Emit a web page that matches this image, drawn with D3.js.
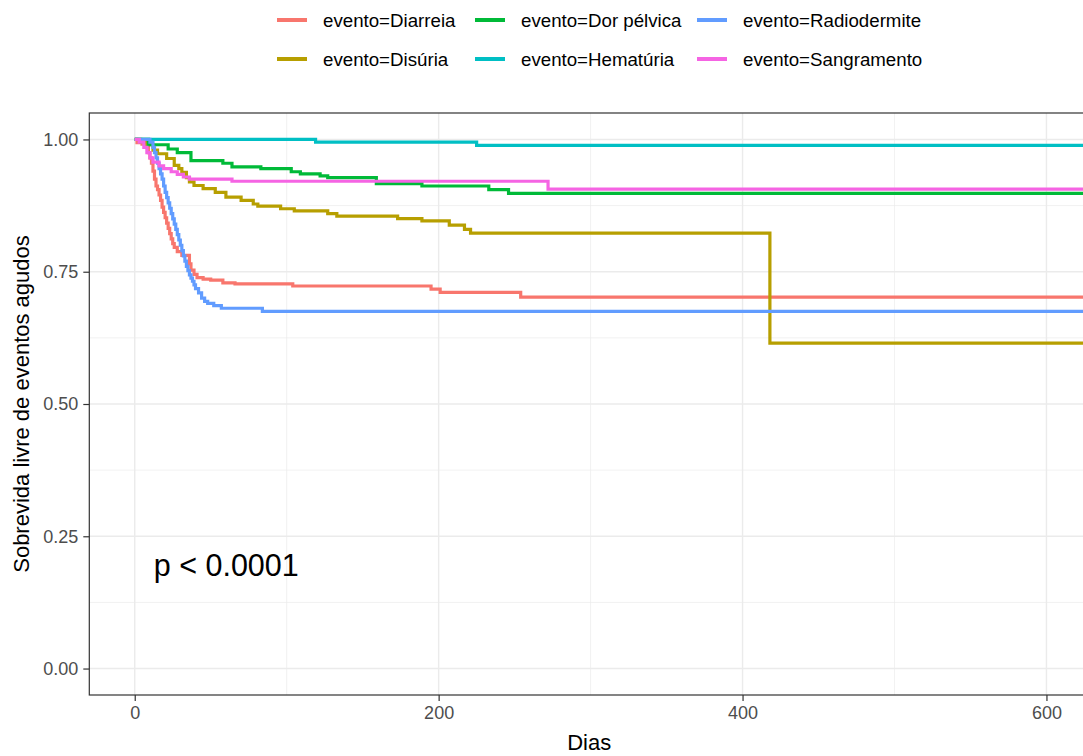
<!DOCTYPE html>
<html>
<head>
<meta charset="utf-8">
<script src="https://cdn.jsdelivr.net/npm/d3@7/dist/d3.min.js"></script>
<style>
  body { margin: 0; background: #fff; }
  svg { display: block; font-family: "Liberation Sans", Arial, sans-serif; }
</style>
</head>
<body>
<div id="cont"></div>
<script>
// strata, alphabetical like survfit
var categories = ["Diarreia", "Disúria", "Dor pélvica", "Hematúria", "Radiodermite", "Sangramento"];
var colors = ["#F8766D", "#B79F00", "#00BA38", "#00BFC4", "#619CFF", "#F564E3"];

// step points (days, survival)
var diarreiaTime = [0, 1.5, 4.8, 7, 9, 10, 11, 12, 13, 14, 15, 16, 17, 18, 19, 20, 21, 22, 23, 24, 25, 26, 28, 31, 36, 37, 39, 41, 45, 50, 58, 66, 104, 195, 201, 254];
var diarreiaSurv = [1, 0.994, 0.991, 0.985, 0.975, 0.965, 0.955, 0.94, 0.925, 0.912, 0.905, 0.895, 0.885, 0.872, 0.862, 0.852, 0.842, 0.832, 0.822, 0.812, 0.803, 0.796, 0.788, 0.781, 0.765, 0.753, 0.745, 0.739, 0.736, 0.734, 0.729, 0.727, 0.723, 0.717, 0.711, 0.702];

var disuriaTime = [0, 4, 8, 12, 15, 21, 26, 29, 31, 34, 36, 39, 45, 53, 60, 70, 78, 81, 96, 105, 127, 133, 173, 189, 207, 217, 221, 418];
var disuriaSurv = [1, 0.995, 0.99, 0.98, 0.973, 0.964, 0.951, 0.945, 0.938, 0.928, 0.92, 0.913, 0.907, 0.9, 0.891, 0.885, 0.878, 0.874, 0.869, 0.865, 0.86, 0.855, 0.8505, 0.846, 0.838, 0.83, 0.823, 0.615];

var dorTime = [0, 9, 22, 28, 37, 58, 64, 83, 103, 109, 122, 127, 159, 189, 233, 246];
var dorSurv = [1, 0.99, 0.982, 0.975, 0.96, 0.955, 0.948, 0.945, 0.939, 0.935, 0.931, 0.928, 0.9165, 0.912, 0.905, 0.898];

var hematuriaTime = [0, 119, 225];
var hematuriaSurv = [1, 0.995, 0.989];

var radioTime = [0, 10, 12, 13, 14, 15, 16, 17, 18, 19, 20, 21, 22, 23, 24, 25, 26, 27, 28, 29, 30, 31, 32, 33, 34, 35, 36, 37, 38, 39, 40, 42, 44, 46, 48, 52, 57, 84];
var radioSurv = [1, 0.995, 0.985, 0.975, 0.965, 0.955, 0.945, 0.935, 0.925, 0.912, 0.9, 0.89, 0.88, 0.87, 0.86, 0.85, 0.84, 0.83, 0.82, 0.81, 0.8, 0.79, 0.78, 0.77, 0.76, 0.752, 0.744, 0.738, 0.732, 0.725, 0.718, 0.71, 0.7, 0.694, 0.69, 0.686, 0.681, 0.675];

var sangraTime = [0, 3, 6, 8, 10, 12, 16, 19, 24, 28, 32, 36, 64, 272];
var sangraSurv = [1, 0.995, 0.985, 0.975, 0.965, 0.957, 0.95, 0.945, 0.939, 0.934, 0.929, 0.925, 0.921, 0.906];

var followUpEnd = 640;

var xTicks = [0, 200, 400, 600];
var yTicks = [0, 0.25, 0.5, 0.75, 1];
var pLabel = "p < 0.0001";

var series = [
  [diarreiaTime, diarreiaSurv],
  [disuriaTime, disuriaSurv],
  [dorTime, dorSurv],
  [hematuriaTime, hematuriaSurv],
  [radioTime, radioSurv],
  [sangraTime, sangraSurv]
].map(function(s, i) {
  var pts = s[0].map(function(t, j) { return { t: t, s: s[1][j] }; });
  pts.push({ t: followUpEnd, s: s[1][s[1].length - 1] });
  return { name: categories[i], color: colors[i], pts: pts };
});

var W = 1083, H = 756;
var pLeft = 89.3, pRight = 1089, pTop = 113, pBottom = 695;

var svg = d3.select("#cont").append("svg")
  .attr("width", W).attr("height", H);

var xScale = d3.scaleLinear().domain([-29.9, 628]).range([pLeft, pRight]);
var yScale = d3.scaleLinear().domain([-0.05, 1.05]).range([pBottom, pTop]);

// grid
var xMinor = [100, 300, 500];
var yMinor = [0.125, 0.375, 0.625, 0.875];

svg.append("g").selectAll("line").data(xMinor).enter().append("line")
  .attr("x1", d => xScale(d)).attr("x2", d => xScale(d))
  .attr("y1", pTop).attr("y2", pBottom)
  .attr("stroke", "#EBEBEB").attr("stroke-width", 0.7);
svg.append("g").selectAll("line").data(yMinor).enter().append("line")
  .attr("x1", pLeft).attr("x2", pRight)
  .attr("y1", d => yScale(d)).attr("y2", d => yScale(d))
  .attr("stroke", "#EBEBEB").attr("stroke-width", 0.7);
svg.append("g").selectAll("line").data(xTicks).enter().append("line")
  .attr("x1", d => xScale(d)).attr("x2", d => xScale(d))
  .attr("y1", pTop).attr("y2", pBottom)
  .attr("stroke", "#EBEBEB").attr("stroke-width", 1.4);
svg.append("g").selectAll("line").data(yTicks).enter().append("line")
  .attr("x1", pLeft).attr("x2", pRight)
  .attr("y1", d => yScale(d)).attr("y2", d => yScale(d))
  .attr("stroke", "#EBEBEB").attr("stroke-width", 1.4);

// curves
svg.append("clipPath").attr("id", "clip").append("rect")
  .attr("x", pLeft).attr("y", pTop).attr("width", pRight - pLeft).attr("height", pBottom - pTop);

var line = d3.line()
  .x(d => xScale(d.t))
  .y(d => yScale(d.s))
  .curve(d3.curveStepAfter);

svg.append("g").attr("clip-path", "url(#clip)")
  .selectAll("path").data(series).enter().append("path")
  .attr("d", d => line(d.pts))
  .attr("fill", "none")
  .attr("stroke", d => d.color)
  .attr("stroke-width", 3.2);

// border
svg.append("rect")
  .attr("x", pLeft).attr("y", pTop).attr("width", pRight - pLeft).attr("height", pBottom - pTop)
  .attr("fill", "none").attr("stroke", "#333333").attr("stroke-width", 1.2);

// axes
var xAxis = svg.append("g")
  .attr("transform", "translate(0," + pBottom + ")")
  .call(d3.axisBottom(xScale).tickValues(xTicks).tickSize(6).tickPadding(5).tickFormat(d3.format("d")));
var yAxis = svg.append("g")
  .attr("transform", "translate(" + pLeft + ",0)")
  .call(d3.axisLeft(yScale).tickValues(yTicks).tickSize(6).tickPadding(5).tickFormat(d3.format(".2f")));

[xAxis, yAxis].forEach(function(a) {
  a.select(".domain").remove();
  a.selectAll("line").attr("stroke", "#333333").attr("stroke-width", 1.2);
  a.selectAll("text")
    .attr("fill", "#4D4D4D")
    .style("font-size", "18px")
    .style("font-family", "'Liberation Sans', Arial, sans-serif");
});

// titles
svg.append("text")
  .attr("x", (pLeft + pRight) / 2).attr("y", 750)
  .attr("text-anchor", "middle")
  .style("font-size", "22px")
  .text("Dias");

svg.append("text")
  .attr("transform", "translate(29," + ((pTop + pBottom) / 2) + ") rotate(-90)")
  .attr("text-anchor", "middle")
  .style("font-size", "22px")
  .text("Sobrevida livre de eventos agudos");

svg.append("text")
  .attr("x", xScale(12.5)).attr("y", yScale(0.2) + 13)
  .style("font-size", "30.5px")
  .text(pLabel);

// legend, two rows filled by column
var legendCols = [277, 475, 697];
var legendRows = [20, 59];
var lg = svg.append("g").selectAll("g").data(series).enter().append("g")
  .attr("transform", function(d, i) {
    return "translate(" + legendCols[Math.floor(i / 2)] + "," + legendRows[i % 2] + ")";
  });
lg.append("line")
  .attr("x1", 0).attr("x2", 30).attr("y1", 0).attr("y2", 0)
  .attr("stroke", d => d.color).attr("stroke-width", 4);
lg.append("text")
  .attr("x", 46).attr("y", 6.8)
  .style("font-size", "18.7px")
  .text(d => "evento=" + d.name);
</script>
</body>
</html>
